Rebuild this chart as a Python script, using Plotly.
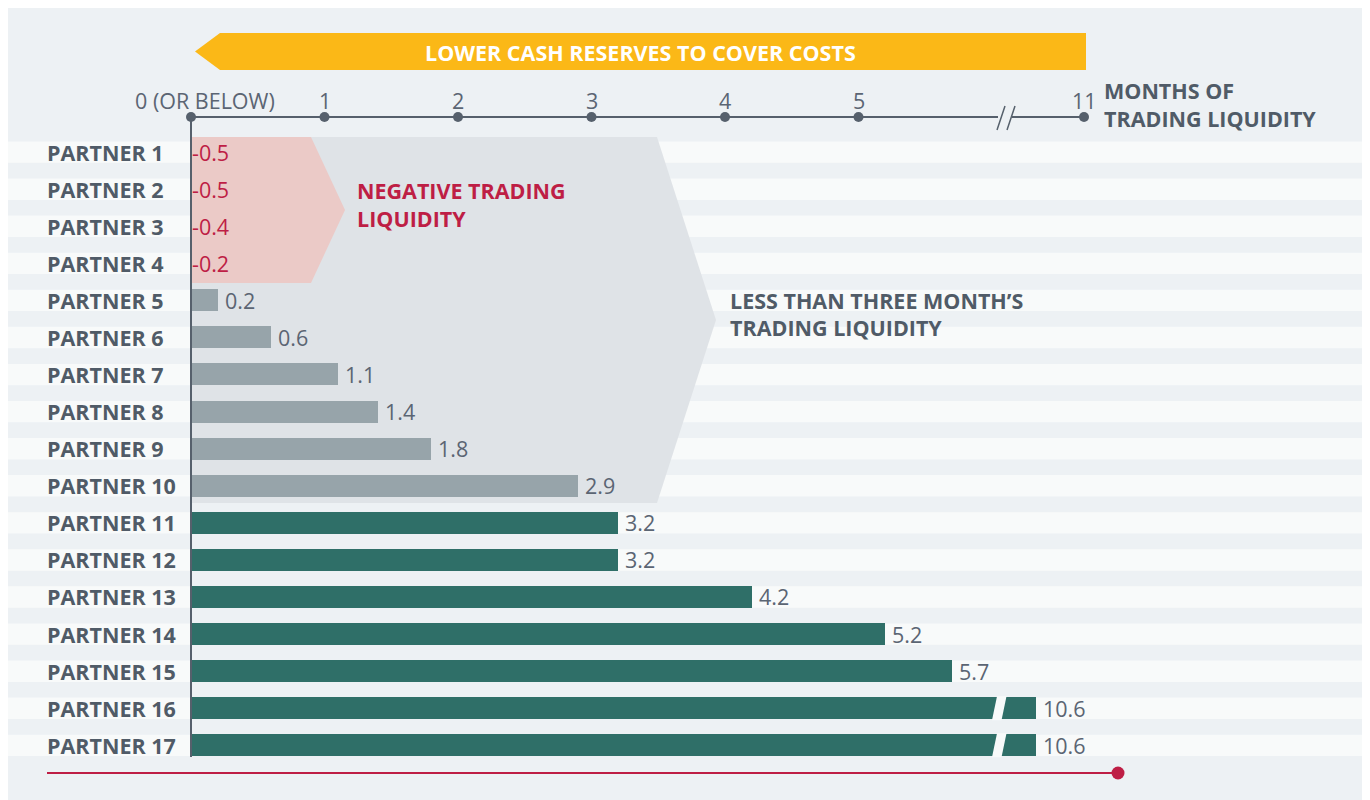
import plotly.graph_objects as go

# ---------------- data ----------------
partners = ["PARTNER 1", "PARTNER 2", "PARTNER 3", "PARTNER 4", "PARTNER 5",
            "PARTNER 6", "PARTNER 7", "PARTNER 8", "PARTNER 9", "PARTNER 10",
            "PARTNER 11", "PARTNER 12", "PARTNER 13", "PARTNER 14", "PARTNER 15",
            "PARTNER 16", "PARTNER 17"]
liquidity = [-0.5, -0.5, -0.4, -0.2, 0.2, 0.6, 1.1, 1.4, 1.8, 2.9,
             3.2, 3.2, 4.2, 5.2, 5.7, 10.6, 10.6]
tick_values = [0, 1, 2, 3, 4, 5, 11]
tick_labels = ["0 (OR BELOW)", "1", "2", "3", "4", "5", "11"]

# ---------------- styling ----------------
OFF = 8                    # page offset of the figure (body margin)
W, H = 1362, 792
X0, UX = 191.0, 133.5      # page pixel of value 0, pixels per month
Y0, UY = 152.0, 37.08      # page pixel of first row centre, pixels per row
U11 = (1084 - X0) / UX     # axis position of the "11" tick (after break)
FONT = "Open Sans"
PANEL = "#EDF1F4"
STRIPE = "#F8FAFA"
DARK = "#505B67"
NUM = "#5B6573"
RED = "#BE1E45"
GREY_BAR = "#97A4AA"
GREEN_BAR = "#2F6F68"
AXIS = "#56606C"
FS_BOLD = 21.5
FS_NUM = 21.5


def ux(px):
    return (px - X0) / UX


def uy(py):
    return (py - Y0) / UY


def pos(v):
    """broken axis scale: linear up to 6, compressed segment near 11"""
    if v <= 6:
        return v
    return U11 - (11 - v) * 0.9


n = len(partners)
rows = list(range(n))

fig = go.Figure()

# bars
grey_idx = [i for i, v in enumerate(liquidity) if 0 < v < 3]
green_idx = [i for i, v in enumerate(liquidity) if v >= 3]
for idx, col in ((grey_idx, GREY_BAR), (green_idx, GREEN_BAR)):
    fig.add_trace(go.Bar(
        orientation="h",
        y=[rows[i] for i in idx],
        x=[pos(liquidity[i]) for i in idx],
        base=0,
        width=22 / UY,
        marker=dict(color=col, line=dict(width=0)),
        hoverinfo="skip",
        showlegend=False,
    ))

# top axis dots
fig.add_trace(go.Scatter(
    x=[pos(t) for t in tick_values],
    y=[uy(117)] * len(tick_values),
    mode="markers",
    marker=dict(size=10, color=AXIS),
    hoverinfo="skip", showlegend=False,
))
# bottom red dot
fig.add_trace(go.Scatter(
    x=[ux(1118)], y=[uy(773)], mode="markers",
    marker=dict(size=13, color=RED),
    hoverinfo="skip", showlegend=False,
))

shapes = []
# panel background
shapes.append(dict(type="rect", xref="x", yref="y", x0=ux(7), x1=ux(1365),
                   y0=uy(7), y1=uy(801), fillcolor=PANEL, line_width=0,
                   layer="below"))
# row stripes
for i in rows:
    shapes.append(dict(type="rect", xref="x", yref="y", x0=ux(7), x1=ux(1365),
                       y0=i - 10.6 / UY, y1=i + 10.8 / UY, fillcolor=STRIPE,
                       line_width=0, layer="below"))


def path(pts):
    return "M " + " L ".join(f"{ux(a):.4f},{uy(b):.4f}" for a, b in pts) + " Z"


# grey chevron (less than three months)
shapes.append(dict(type="path", xref="x", yref="y",
                   path=path([(192, 137), (657, 137), (716, 320), (657, 503), (192, 503)]),
                   fillcolor="#DFE3E7", line_width=0, layer="below"))
# pink chevron (negative)
shapes.append(dict(type="path", xref="x", yref="y",
                   path=path([(192, 137), (311, 137), (345, 210), (311, 283), (192, 283)]),
                   fillcolor="#EBCAC7", line_width=0, layer="below"))
# orange arrow
shapes.append(dict(type="path", xref="x", yref="y",
                   path=path([(195, 51.5), (220, 33), (1086, 33), (1086, 70), (220, 70)]),
                   fillcolor="#FBB817", line_width=0, layer="below"))

# bar breaks for long bars
for i, v in enumerate(liquidity):
    if v > 6:
        c = Y0 + i * UY
        shapes.append(dict(type="path", xref="x", yref="y",
                           path=path([(997, c - 12), (1006.5, c - 12), (1001.5, c + 12), (992, c + 12)]),
                           fillcolor=STRIPE, line_width=0, layer="above"))

# top axis line with break
shapes.append(dict(type="line", xref="x", yref="y", x0=0, x1=ux(998),
                   y0=uy(117), y1=uy(117), line=dict(color=AXIS, width=2), layer="above"))
shapes.append(dict(type="line", xref="x", yref="y", x0=ux(1012), x1=pos(11),
                   y0=uy(117), y1=uy(117), line=dict(color=AXIS, width=2), layer="above"))
for sx in (997, 1007):
    shapes.append(dict(type="line", xref="x", yref="y", x0=ux(sx), x1=ux(sx + 8),
                       y0=uy(130), y1=uy(106), line=dict(color=AXIS, width=1.5), layer="above"))
# vertical axis
shapes.append(dict(type="line", xref="x", yref="y", x0=0, x1=0,
                   y0=uy(117), y1=uy(757), line=dict(color=AXIS, width=2), layer="above"))
# bottom red line
shapes.append(dict(type="line", xref="x", yref="y", x0=ux(47), x1=ux(1118),
                   y0=uy(773), y1=uy(773), line=dict(color=RED, width=2), layer="above"))

ann = []


def text(x, y, s, size, color, bold=False, anchor="left"):
    ann.append(dict(x=x, y=y, xref="x", yref="y", text=f"<b>{s}</b>" if bold else s,
                    showarrow=False, xanchor=anchor, yanchor="middle",
                    font=dict(family=FONT, size=size, color=color)))


# partner labels
for i, name in enumerate(partners):
    text(ux(45), i, name, FS_BOLD, DARK, bold=True)

# value labels
for i, v in enumerate(liquidity):
    if v < 0:
        ann.append(dict(x=0, y=i, xref="x", yref="y", text=f"{v:.1f}", showarrow=False,
                        xanchor="left", yanchor="middle", xshift=-1,
                        font=dict(family=FONT, size=FS_NUM, color=RED)))
    else:
        ann.append(dict(x=pos(v), y=i, xref="x", yref="y", text=f"{v:.1f}", showarrow=False,
                        xanchor="left", yanchor="middle", xshift=5,
                        font=dict(family=FONT, size=FS_NUM, color=NUM)))

# tick labels
for t, lab in zip(tick_values, tick_labels):
    xpos = pos(t) if t != 0 else ux(205)
    ann.append(dict(x=xpos, y=uy(100), xref="x", yref="y", text=lab, showarrow=False,
                    xanchor="center", yanchor="middle",
                    font=dict(family=FONT, size=FS_NUM, color=NUM)))

text(ux(1102), uy(90), "MONTHS OF", FS_BOLD, DARK, bold=True)
text(ux(1102), uy(118), "TRADING LIQUIDITY", FS_BOLD, DARK, bold=True)
text(ux(640), uy(52), "LOWER CASH RESERVES TO COVER COSTS", FS_BOLD, "white", bold=True, anchor="center")
text(ux(355), uy(190), "NEGATIVE TRADING", FS_BOLD, RED, bold=True)
text(ux(355), uy(218), "LIQUIDITY", FS_BOLD, RED, bold=True)
text(ux(728), uy(300), "LESS THAN THREE MONTH\u2019S", FS_BOLD, DARK, bold=True)
text(ux(728), uy(327), "TRADING LIQUIDITY", FS_BOLD, DARK, bold=True)

fig.update_layout(
    width=W, height=H,
    margin=dict(l=0, r=0, t=0, b=0),
    paper_bgcolor="white", plot_bgcolor="rgba(0,0,0,0)",
    xaxis=dict(range=[ux(OFF), ux(OFF + W)], visible=False, fixedrange=True),
    yaxis=dict(range=[uy(OFF + H), uy(OFF)], visible=False, fixedrange=True),
    shapes=shapes, annotations=ann,
    bargap=0, showlegend=False,
)

fig.write_html("out.html")
